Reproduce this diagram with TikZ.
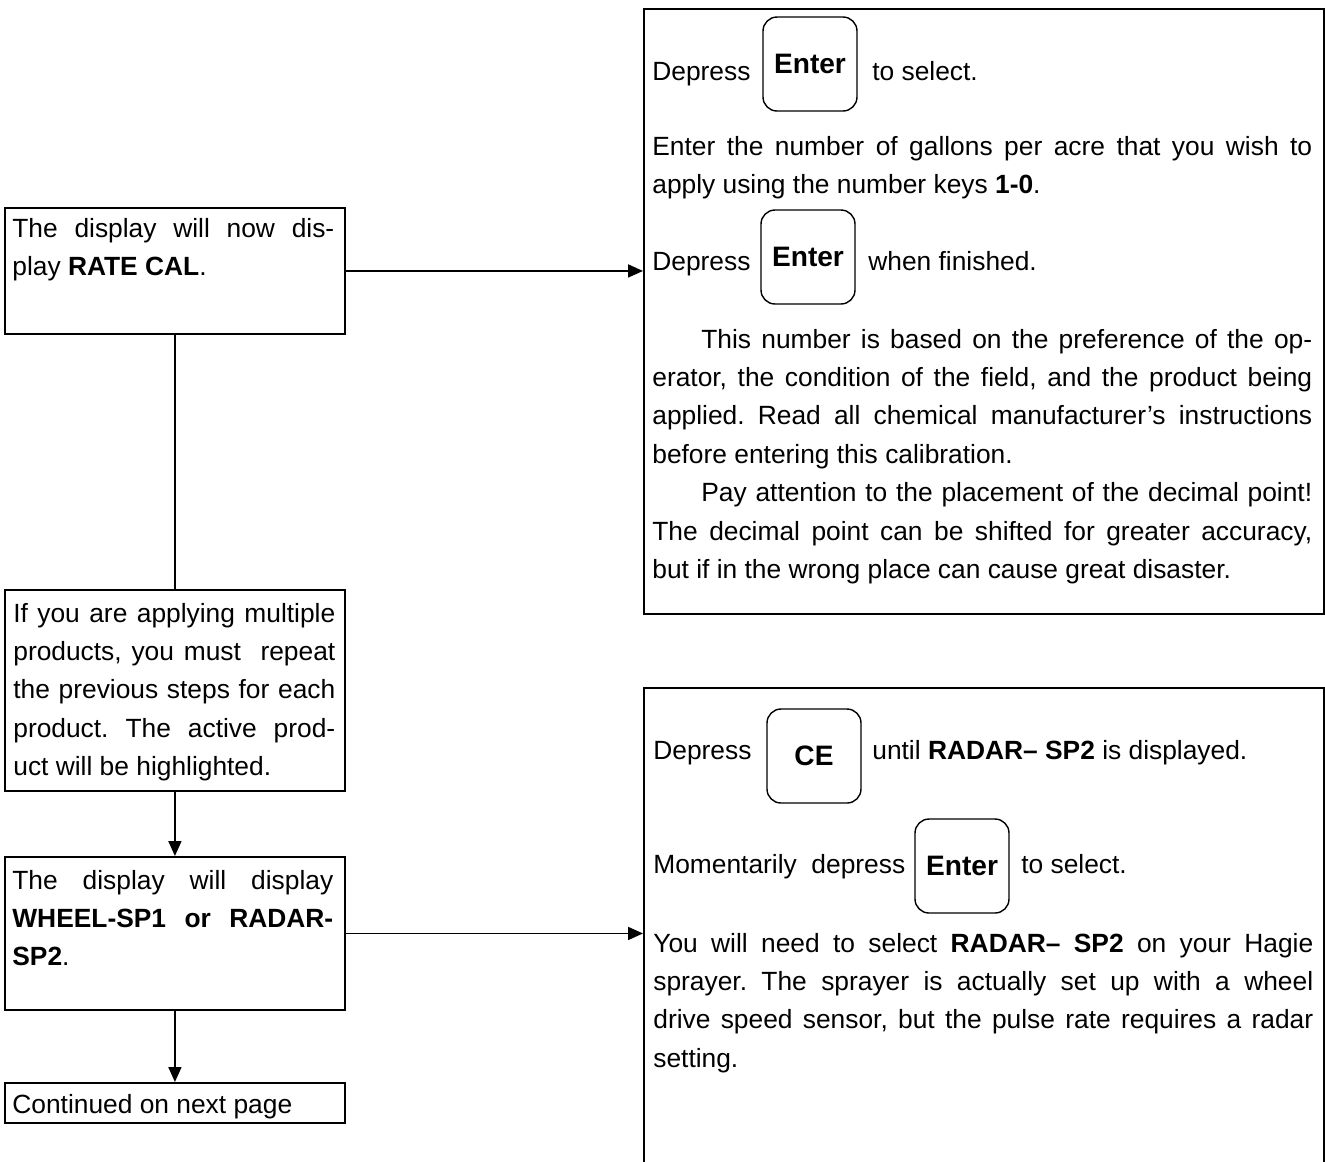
\documentclass[tikz,border=0pt]{standalone}
\usepackage{fontspec}
\setmainfont{Liberation Sans}
\usetikzlibrary{arrows.meta}
\frenchspacing

\begin{document}
\begin{tikzpicture}[x=0.02cm,y=-0.02cm,
  frame/.style={draw,line width=1.1pt,inner sep=0pt,anchor=north west},
  txt/.style={inner sep=0pt,anchor=base west,font=\fontsize{15}{21.9}\selectfont},
  para/.style={txt,align=justify},
  key/.style={draw,line width=0.8pt,rounded corners=0.28cm,minimum width=1.88cm,
    minimum height=1.88cm,inner sep=0pt,font=\fontsize{16}{19}\selectfont\bfseries},
  arr/.style={line width=1pt,-{Triangle[length=3mm,width=2.6mm]}},
  link/.style={line width=1pt}]
\path[use as bounding box,fill=white] (0,0) rectangle (1325,1161);

% left column
\node[frame,minimum width=6.8cm,minimum height=2.52cm] (rate) at (4,207) {};
\node[para,text width=6.44cm] (ratetxt) at (12,237)
  {The display will now dis-\linebreak play \textbf{RATE CAL}.};

\node[frame,minimum width=6.8cm,minimum height=4.02cm] (multi) at (4,589) {};
\node[para,text width=6.44cm] (multitxt) at (13,622)
  {If you are applying multiple\linebreak products, you must\ \ repeat\linebreak
   the previous steps for each\linebreak product. The active prod-\linebreak
   uct will be highlighted.};

\node[frame,minimum width=6.8cm,minimum height=3.06cm] (wheel) at (4,856) {};
\node[para,text width=6.42cm] (wheeltxt) at (12,889)
  {The display will display\linebreak \textbf{WHEEL-SP1 or RADAR-}\linebreak
   \textbf{SP2}.};

\node[frame,minimum width=6.8cm,minimum height=0.8cm] (cont) at (4,1082) {};
\node[txt] (conttxt) at (12,1113) {Continued on next page};

% right column, rate box
\node[frame,minimum width=13.6cm,minimum height=12.1cm] (calbox) at (643,8) {};
\node[txt] (dep1) at (652,80) {Depress};
\node[key] (key1) at (810,64) {Enter};
\node[txt] (sel1) at (872,80) {to select.};
\node[para,text width=13.2cm] (gal) at (652,155)
  {Enter the number of gallons per acre that you wish to\linebreak
   apply using the number keys \textbf{1-0}.};
\node[txt] (dep2) at (652,270) {Depress};
\node[key] (key2) at (808,257) {Enter};
\node[txt] (fin) at (868,270) {when finished.};
\node[para,text width=13.2cm] (note) at (652,348)
  {\hspace*{0.98cm}This number is based on the preference of the op-\linebreak
   erator, the condition of the field, and the product being\linebreak
   applied. Read all chemical manufacturer’s instructions\linebreak
   before entering this calibration.\par
   \hspace*{0.98cm}Pay attention to the placement of the decimal point!\linebreak
   The decimal point can be shifted for greater accuracy,\linebreak
   but if in the wrong place can cause great disaster.};

% right column, speed box
\node[frame,minimum width=13.6cm,minimum height=10.4cm] (radbox) at (643,687) {};
\node[txt] (dep3) at (653,759) {Depress};
\node[key] (key3) at (814,756) {CE};
\node[txt] (until) at (872,759) {until \textbf{RADAR– SP2} is displayed.};
\node[txt] (mom) at (653,873) {Momentarily\ \ depress};
\node[key] (key4) at (962,866) {Enter};
\node[txt] (sel2) at (1021,873) {to select.};
\node[para,text width=13.2cm] (hagie) at (653,952)
  {You will need to select \textbf{RADAR– SP2} on your Hagie\linebreak
   sprayer. The sprayer is actually set up with a wheel\linebreak
   drive speed sensor, but the pulse rate requires a radar\linebreak
   setting.};

% connectors
\draw[link] (rate.south) -- (multi.north);
\draw[arr] (multi.south) -- (wheel.north);
\draw[arr] (wheel.south) -- (cont.north);
\draw[arr] (rate.east) -- (rate.east -| calbox.west);
\draw[arr] (wheel.east) -- (wheel.east -| radbox.west);

\end{tikzpicture}
\end{document}
